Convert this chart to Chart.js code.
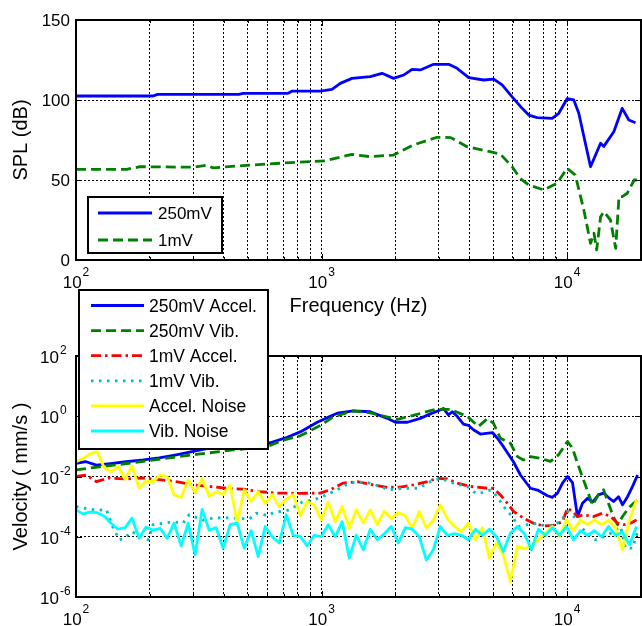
<!DOCTYPE html>
<html>
<head>
<meta charset="utf-8">
<title>SPL and velocity vs frequency</title>
<script src="https://cdn.jsdelivr.net/npm/chart.js@4.4.1/dist/chart.umd.min.js"></script>
<style>
  html, body { margin:0; padding:0; background:#fff; }
  #wrap { position:relative; width:642px; height:626px; overflow:hidden; }
  #wrap canvas { position:absolute; left:0; }
  #splChart { top:0; }
  #velChart { top:280px; }
</style>
</head>
<body>
<div id="wrap">
  <canvas id="splChart" width="642" height="320"></canvas>
  <canvas id="velChart" width="642" height="346"></canvas>
</div>
<script>
// ============================================
//  SPL (top) + velocity (bottom) vs frequency
// ============================================

const FONT = "'Liberation Sans', Arial, Helvetica, sans-serif";

// ── TOP PANEL: SPL (dB) ──────────────────────
const SPL_250MV_FREQ = [100, 150, 206, 215, 460, 480, 730, 760, 990, 1035, 1103, 1192, 1330, 1579, 1763,
  1966, 2160, 2336, 2526, 2861, 3294, 3565, 3976, 4575, 5026, 5438, 5974, 6561, 6982, 7553,
  8696, 9252, 10000, 10650, 11160, 12460, 13690, 14110, 15500, 16770, 17840, 19000];
const SPL_250MV_DB = [102.5, 102.5, 102.5, 103.5, 103.5, 104.2, 104.2, 105.6, 105.6, 106, 106.7, 110.4, 113.5, 114.6, 116.7,
  113.5, 115.6, 119.2, 118.8, 122.3, 122.3, 119.8, 114, 112.5, 113.1, 109.4, 102, 94.8, 90.6, 89,
  88.5, 91.7, 100.8, 100, 91.7, 58.3, 73, 71, 80.2, 94.8, 87.5, 85.8];

const SPL_1MV_FREQ = [100, 161, 182, 300, 341, 362, 479, 699, 1035, 1330, 1579, 1966, 2366, 2955, 3360,
  3915, 4856, 5340, 5974, 6440, 6982, 8044, 9100, 10000, 10800, 11700, 12460, 12870, 13200, 13690,
  14110, 15020, 15770, 16270, 16770, 17580, 18760, 19250];
const SPL_1MV_DB = [56.7, 56.7, 58.3, 58, 59.2, 57.6, 59, 60.6, 62, 66, 64.6, 65.6, 71.9, 76.7, 76.5,
  70.8, 67.7, 66.3, 58.3, 51, 46.9, 43.8, 47.9, 57.3, 53.1, 31.3, 10.4, 16.7, 6.3, 27,
  30.2, 25, 7.3, 39.6, 39.6, 41.7, 50, 50];

// ── BOTTOM PANEL: velocity (mm/s) ────────────
const ACC_250MV_FREQ = [100, 110, 121, 138, 160, 188, 218, 256, 300, 349, 409, 480, 563, 618, 725,
  819, 961, 1085, 1159, 1347, 1580, 1853, 1998, 2236, 2526, 2774, 3047, 3134, 3285, 3410,
  3575, 3782, 3964, 4154, 4436, 4964, 5203, 5505, 6046, 6457, 7093, 7574, 8321, 8720, 9139,
  9579, 10037, 10520, 11024, 11556, 12112, 12695, 13428, 14075, 14752, 15461, 16198, 16818, 17631, 18477,
  19364];
const ACC_250MV_VEL = [2.75e-2, 3.09e-2, 2.4e-2, 2.69e-2, 3.09e-2, 3.55e-2, 4.17e-2, 5.25e-2, 6.76e-2, 8.71e-2, 9.55e-2, 0.11, 0.12, 0.132, 0.2,
  0.302, 0.631, 1.0, 1.26, 1.51, 1.41, 0.851, 0.631, 0.631, 0.851, 1.2, 1.62, 1.82, 1.12, 1.41,
  0.977, 0.55, 0.5, 0.355, 0.257, 0.288, 0.186, 9.77e-2, 3.09e-2, 1.12e-2, 4.07e-3, 3.55e-3, 2.29e-3, 2.04e-3, 2.82e-3,
  6.03e-3, 1.0e-2, 6.31e-3, 4.68e-4, 1.29e-3, 1.91e-3, 1.41e-3, 2.45e-3, 2.82e-3, 2.0e-3, 1.48e-3, 2.14e-3, 1.15e-3, 2.14e-3, 4.68e-3,
  1.12e-2];

const VIB_250MV_FREQ = [100, 125, 171, 235, 320, 437, 601, 698, 819, 988, 1116, 1347, 1580, 2035, 2365,
  2908, 3346, 3926, 4354, 4737, 5012, 5352, 5880, 6279, 6643, 7093, 7791, 8558, 9226, 10037,
  10520, 11024, 11665, 12695, 13428, 14075, 14752, 15461, 16054, 16818, 17797, 18651, 19364];
const VIB_250MV_VEL = [1.66e-2, 2.09e-2, 2.88e-2, 4.07e-2, 5.62e-2, 7.59e-2, 9.77e-2, 0.162, 0.224, 0.49, 0.955, 1.51, 1.29, 0.794, 1.07,
  1.7, 1.7, 0.977, 0.457, 0.832, 0.589, 0.186, 0.126, 4.57e-2, 3.55e-2, 4.57e-2, 3.98e-2, 3.16e-2, 5.25e-2, 0.145,
  8.71e-2, 2.75e-2, 7.76e-3, 1.12e-3, 2.51e-3, 3.63e-3, 1.26e-3, 4.47e-4, 2.51e-4, 4.68e-4, 8.91e-4, 1.29e-3, 1.66e-3];

const ACC_1MV_FREQ = [100, 110, 121, 136, 160, 188, 218, 256, 300, 349, 409, 480, 557, 654, 819,
  988, 1085, 1226, 1398, 1625, 1853, 2094, 2365, 2697, 2963, 3254, 3575, 4039, 4737, 5012,
  5352, 5715, 6046, 6643, 7295, 8014, 8804, 9579, 10037, 10520, 11024, 11665, 12812, 13944, 15029,
  16054, 16981, 18131, 19183];
const ACC_1MV_VEL = [1.0e-2, 1.12e-2, 6.76e-3, 8.91e-3, 8.32e-3, 8.91e-3, 7.94e-3, 6.76e-3, 5.25e-3, 4.68e-3, 4.07e-3, 3.8e-3, 3.16e-3, 2.82e-3, 2.75e-3,
  2.82e-3, 3.63e-3, 6.03e-3, 6.76e-3, 5.25e-3, 4.37e-3, 4.47e-3, 5.25e-3, 6.76e-3, 8.71e-3, 8.32e-3, 6.03e-3, 4.68e-3, 4.07e-3, 4.07e-3,
  2.45e-3, 1.29e-3, 6.92e-4, 4.17e-4, 2.82e-4, 2.29e-4, 2.4e-4, 3.16e-4, 8.91e-4, 6.92e-4, 4.68e-4, 5.37e-4, 4.68e-4, 6.03e-4, 4.68e-4,
  2.82e-4, 2.51e-4, 2.82e-4, 3.63e-4];

const VIB_1MV_FREQ = [100, 108, 121, 133, 142, 150, 158, 168, 188, 197, 206, 226, 249, 273, 289,
  330, 362, 421, 507, 542, 606, 635, 739, 842, 925, 1007, 1159, 1309, 1536, 1735,
  1871, 2153, 2479, 2774, 3047, 3443, 3926, 4233, 4436, 4873, 5203, 5453, 5715, 5990, 6338,
  6897, 7574, 8166, 8804, 9400, 10037, 10619, 11340, 12456, 13057, 14075, 15315, 16510, 17302, 18477,
  19364];
const VIB_1MV_VEL = [1.0e-3, 8.91e-4, 7.59e-4, 7.94e-4, 1.91e-4, 7.94e-5, 8.91e-5, 1.48e-4, 1.0e-4, 7.94e-5, 2.51e-4, 2.82e-4, 3.16e-4, 2.82e-4, 5.37e-4,
  3.55e-4, 4.17e-4, 4.27e-4, 3.8e-4, 6.03e-4, 5.01e-4, 6.31e-4, 7.76e-4, 1.48e-3, 1.66e-3, 2.14e-3, 3.63e-3, 6.31e-3, 6.31e-3, 4.68e-3,
  3.63e-3, 4.07e-3, 4.07e-3, 6.76e-3, 8.71e-3, 6.03e-3, 4.68e-3, 2.82e-3, 2.82e-3, 3.55e-3, 2.14e-3, 1.15e-3, 6.92e-4, 4.68e-4, 2.19e-4,
  2.51e-4, 2.82e-4, 2.19e-4, 2.51e-4, 3.16e-4, 6.92e-4, 5.01e-4, 2.19e-4, 1.02e-4, 7.94e-5, 1.0e-4, 1.41e-4, 2.19e-4, 4.17e-5, 4.17e-5,
  1.48e-4];

// noise records share one frequency axis
const NOISE_FREQ = [100, 106.8, 114, 121.8, 130.1, 138.9, 148.3, 158.4, 169.2, 180.7,
  192.9, 206, 220, 235, 250.9, 268, 286.2, 305.6, 326.4, 348.5,
  372.2, 397.5, 424.5, 453.3, 484.1, 517, 552.1, 589.6, 629.6, 672.4,
  718, 766.8, 818.8, 874.4, 933.8, 997.2, 1065, 1137, 1214, 1297,
  1385, 1479, 1579, 1687, 1801, 1923, 2054, 2193, 2342, 2501,
  2671, 2853, 3046, 3253, 3474, 3710, 3962, 4231, 4518, 4825,
  5153, 5503, 5876, 6275, 6702, 7157, 7643, 8162, 8716, 9308,
  9940, 10615, 11336, 12106, 12928, 13806, 14743, 15744, 16813, 17955,
  19174];
const ACC_NOISE_VEL = [3.09e-2, 3.98e-2, 5.62e-2, 6.76e-2, 2.0e-2, 1.41e-2, 2.14e-2, 8.13e-3, 2.24e-2, 4.07e-3,
  7.08e-3, 6.76e-3, 1.12e-2, 1.0e-2, 2.45e-3, 2.0e-3, 7.76e-3, 2.82e-3, 8.71e-3, 2.14e-3,
  3.16e-3, 2.51e-3, 5.25e-3, 2.82e-4, 3.63e-3, 1.48e-3, 3.16e-3, 1.26e-3, 2.51e-3, 1.0e-3,
  1.78e-3, 2.51e-3, 5.01e-4, 1.48e-3, 1.12e-3, 3.63e-4, 1.41e-3, 3.16e-4, 1.0e-3, 1.91e-4,
  7.94e-4, 2.82e-4, 7.76e-4, 2.51e-4, 7.08e-4, 3.98e-4, 6.31e-4, 5.01e-4, 1.91e-4, 6.92e-4,
  2.0e-4, 3.55e-4, 1.15e-3, 3.98e-4, 2.19e-4, 1.48e-4, 2.82e-4, 7.94e-5, 2.0e-4, 1.95e-5,
  6.31e-5, 2.51e-5, 3.24e-6, 4.79e-5, 3.98e-5, 5.01e-5, 7.94e-5, 1.32e-4, 2.19e-4, 1.02e-4,
  3.63e-4, 1.58e-4, 3.63e-4, 2.51e-4, 3.63e-4, 2.51e-4, 3.55e-4, 2.0e-4, 3.72e-5, 3.63e-4,
  1.66e-3];
const VIB_NOISE_VEL = [7.76e-4, 5.75e-4, 6.61e-4, 6.31e-4, 4.9e-4, 2.82e-4, 1.78e-4, 2.0e-4, 4.17e-4, 8.91e-5,
  2.09e-4, 1.66e-4, 1.91e-4, 8.91e-5, 2.82e-4, 5.01e-5, 2.82e-4, 2.51e-5, 8.13e-4, 1.66e-4,
  2.0e-4, 4.17e-5, 2.51e-4, 2.82e-4, 4.17e-5, 1.58e-4, 2.19e-5, 2.19e-4, 1.0e-4, 6.17e-5,
  5.37e-4, 1.12e-4, 1.02e-4, 5.01e-5, 1.12e-4, 1.0e-4, 2.51e-4, 1.0e-4, 3.16e-4, 1.95e-5,
  1.12e-4, 3.72e-5, 1.78e-4, 7.94e-5, 1.26e-4, 2.19e-4, 6.17e-5, 2.0e-4, 1.78e-4, 1.0e-4,
  1.7e-5, 3.72e-5, 2.19e-4, 1.12e-4, 1.26e-4, 1.12e-4, 7.94e-5, 1.78e-4, 1.12e-4, 1.78e-4,
  1.0e-4, 3.24e-5, 1.32e-4, 2.19e-4, 1.26e-4, 3.72e-5, 1.78e-4, 1.12e-4, 2.0e-4, 1.12e-4,
  2.19e-4, 7.94e-5, 1.58e-4, 1.12e-4, 1.58e-4, 1.0e-4, 2.19e-4, 1.12e-4, 1.41e-4, 5.37e-5,
  2.19e-4];

// ── AXES / TICKS ─────────────────────────────
const FREQ_GRID = [100, 200, 300, 400, 500, 600, 700, 800, 900,
  1000, 2000, 3000, 4000, 5000, 6000, 7000, 8000, 9000, 10000, 20000];
const FREQ_MAJOR = [100, 1000, 10000];
const FREQ_EXP   = ['2', '3', '4'];
const SPL_TICKS  = [0, 50, 100, 150];
const SPL_LABELS = ['0', '50', '100', '150'];
const VEL_TICKS  = [1e-6, 1e-4, 1e-2, 1, 100];
const VEL_EXP    = ['-6', '-4', '-2', '0', '2'];

Chart.defaults.font.family = FONT;
Chart.defaults.color = '#000';

function xy(fs, vs) { return fs.map((f, i) => ({ x: f, y: vs[i] })); }

function series(label, fs, vs, color, dash, order) {
  return {
    label, data: xy(fs, vs), order,
    borderColor: color, backgroundColor: color,
    borderWidth: 2.8, borderDash: dash, borderJoinStyle: 'round',
    pointRadius: 0, tension: 0, fill: false
  };
}

// "10" with a raised exponent
function powLabel(ctx, exp, x, baseY, supY, center) {
  ctx.font = `17px ${FONT}`;
  const wb = ctx.measureText('10').width;
  ctx.font = `12px ${FONT}`;
  const we = ctx.measureText(exp).width;
  const x0 = center ? x - (wb + 1 + we) / 2 : x - wb;
  ctx.textAlign = 'left';
  ctx.textBaseline = 'alphabetic';
  ctx.font = `17px ${FONT}`;
  ctx.fillText('10', x0, baseY);
  ctx.font = `12px ${FONT}`;
  ctx.fillText(exp, x0 + wb + 1, supY);
}

function drawLegend(ctx, chart, lg) {
  ctx.save();
  ctx.fillStyle = '#fff';
  ctx.fillRect(lg.x, lg.y, lg.w, lg.h);
  ctx.lineWidth = 2;
  ctx.strokeStyle = '#000';
  ctx.strokeRect(lg.x, lg.y, lg.w, lg.h);
  ctx.font = `${lg.size}px ${FONT}`;
  ctx.textAlign = 'left';
  ctx.textBaseline = 'alphabetic';
  chart.data.datasets.forEach((ds, i) => {
    const y = lg.row0 + i * lg.step;
    ctx.beginPath();
    ctx.setLineDash(ds.borderDash || []);
    ctx.strokeStyle = ds.borderColor;
    ctx.lineWidth = ds.borderWidth;
    ctx.moveTo(lg.lx0, y);
    ctx.lineTo(lg.lx1, y);
    ctx.stroke();
    ctx.setLineDash([]);
    ctx.fillStyle = '#000';
    ctx.fillText(ds.label, lg.tx, y + 6);
  });
  ctx.restore();
}

// box, inward ticks, tick labels and legend, MATLAB style
const matlabAxes = {
  id: 'matlabAxes',
  afterDraw(chart, args, o) {
    const ctx = chart.ctx;
    const a = chart.chartArea;
    const xs = chart.scales.x, ys = chart.scales.y;
    ctx.save();

    ctx.strokeStyle = '#000';
    ctx.lineWidth = 1;
    ctx.beginPath();
    FREQ_GRID.forEach(v => {
      const px = Math.round(xs.getPixelForValue(v)) + 0.5;
      const len = FREQ_MAJOR.includes(v) ? 6 : 3;
      ctx.moveTo(px, a.bottom); ctx.lineTo(px, a.bottom - len);
      ctx.moveTo(px, a.top);    ctx.lineTo(px, a.top + len);
    });
    o.yTicks.forEach(v => {
      const py = Math.round(ys.getPixelForValue(v)) + 0.5;
      ctx.moveTo(a.left, py);  ctx.lineTo(a.left + 6, py);
      ctx.moveTo(a.right, py); ctx.lineTo(a.right - 6, py);
    });
    ctx.stroke();

    ctx.lineWidth = 2;
    ctx.strokeRect(a.left, a.top, a.right - a.left, a.bottom - a.top);

    ctx.fillStyle = '#000';
    FREQ_MAJOR.forEach((v, i) => {
      powLabel(ctx, FREQ_EXP[i], xs.getPixelForValue(v), a.bottom + 28, a.bottom + 16, true);
    });

    if (o.yLog) {
      o.yTicks.forEach((v, i) => {
        const py = ys.getPixelForValue(v);
        powLabel(ctx, o.yLabels[i], 59, py + 7, py - 2, false);
      });
    } else {
      ctx.font = `17px ${FONT}`;
      ctx.textAlign = 'right';
      ctx.textBaseline = 'alphabetic';
      o.yTicks.forEach((v, i) => {
        ctx.fillText(o.yLabels[i], 70, ys.getPixelForValue(v) + 6);
      });
    }
    ctx.restore();

    drawLegend(ctx, chart, o.legend);
  }
};

function freqAxis(height, title) {
  return {
    type: 'logarithmic', min: 100, max: 20000,
    afterBuildTicks: s => { s.ticks = FREQ_GRID.map(v => ({ value: v })); },
    afterFit: s => { s.height = height; },
    ticks: { display: false },
    grid: { color: '#000', lineWidth: 1, drawTicks: false },
    border: { display: false, dash: [2, 2] },
    title: title
      ? { display: true, text: title, font: { size: 20 }, color: '#000', padding: { top: 0, bottom: 2 } }
      : { display: false }
  };
}

function yTitle(text) {
  return { display: true, text, font: { size: 20 }, color: '#000', padding: { top: 9, bottom: 0 } };
}

const baseOpts = {
  responsive: false,
  devicePixelRatio: 1,
  animation: false,
  events: [],
  plugins: { legend: { display: false }, tooltip: { enabled: false } }
};

// ── TOP: SPL ─────────────────────────────────
new Chart(document.getElementById('splChart'), {
  type: 'line',
  data: {
    datasets: [
      series('250mV', SPL_250MV_FREQ, SPL_250MV_DB, '#0000ff', [], 2),
      series('1mV',   SPL_1MV_FREQ,   SPL_1MV_DB,   '#008000', [10, 5], 1)
    ]
  },
  options: {
    ...baseOpts,
    layout: { padding: { left: 0, right: 1, top: 20, bottom: 0 } },
    scales: {
      x: freqAxis(60, 'Frequency (Hz)'),
      y: {
        type: 'linear', min: 0, max: 150,
        afterBuildTicks: s => { s.ticks = SPL_TICKS.map(v => ({ value: v })); },
        afterFit: s => { s.width = 76; },
        ticks: { display: false },
        grid: { color: '#000', lineWidth: 1, drawTicks: false },
        border: { display: false, dash: [2, 2] },
        title: yTitle('SPL (dB)')
      }
    },
    plugins: {
      ...baseOpts.plugins,
      matlabAxes: {
        yTicks: SPL_TICKS, yLabels: SPL_LABELS, yLog: false,
        legend: { x: 88, y: 197, w: 134, h: 56, row0: 213, step: 27, lx0: 98, lx1: 152, tx: 158, size: 17 }
      }
    }
  },
  plugins: [matlabAxes]
});

// ── BOTTOM: VELOCITY ─────────────────────────
new Chart(document.getElementById('velChart'), {
  type: 'line',
  data: {
    datasets: [
      series('250mV Accel.', ACC_250MV_FREQ, ACC_250MV_VEL, '#0000ff', [], 6),
      series('250mV Vib.',   VIB_250MV_FREQ, VIB_250MV_VEL, '#008000', [10, 5], 5),
      series('1mV Accel.',   ACC_1MV_FREQ,   ACC_1MV_VEL,   '#ff0000', [10, 4, 2.5, 4], 4),
      series('1mV Vib.',     VIB_1MV_FREQ,   VIB_1MV_VEL,   '#00bfbf', [2.5, 5.5], 3),
      series('Accel. Noise', NOISE_FREQ,     ACC_NOISE_VEL, '#ffff00', [], 2),
      series('Vib. Noise',   NOISE_FREQ,     VIB_NOISE_VEL, '#00ffff', [], 1)
    ]
  },
  options: {
    ...baseOpts,
    layout: { padding: { left: 0, right: 1, top: 76, bottom: 0 } },
    scales: {
      x: freqAxis(29, null),
      y: {
        type: 'logarithmic', min: 1e-6, max: 100,
        afterBuildTicks: s => { s.ticks = VEL_TICKS.map(v => ({ value: v })); },
        afterFit: s => { s.width = 76; },
        ticks: { display: false },
        grid: { color: '#000', lineWidth: 1, drawTicks: false },
        border: { display: false, dash: [2, 2] },
        title: yTitle('Velocity ( mm/s )')
      }
    },
    plugins: {
      ...baseOpts.plugins,
      matlabAxes: {
        yTicks: VEL_TICKS, yLabels: VEL_EXP, yLog: true,
        legend: { x: 79, y: 10, w: 189, h: 159, row0: 25.5, step: 25.1, lx0: 91, lx1: 144, tx: 149, size: 17.5 }
      }
    }
  },
  plugins: [matlabAxes]
});
</script>
</body>
</html>
